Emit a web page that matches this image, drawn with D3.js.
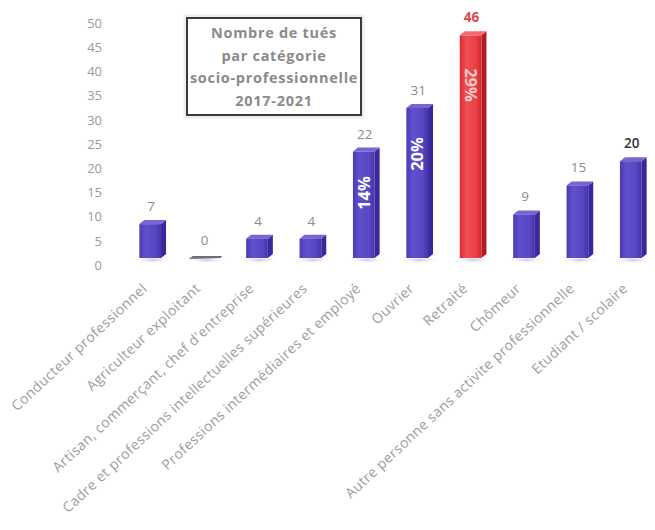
<!DOCTYPE html>
<html>
<head>
<meta charset="utf-8">
<script src="https://cdn.jsdelivr.net/npm/d3@7"></script>
<style>
  html, body { margin: 0; padding: 0; background: #fff; }
  svg { display: block; }
  text { font-family: "Open Sans", "DejaVu Sans", sans-serif; }
</style>
</head>
<body>
<svg id="chart" width="655" height="530"></svg>
<script>
// Categories (French socio-professional groups)
const categories = [
  "Conducteur professionnel",
  "Agriculteur exploitant",
  "Artisan, commerçant, chef d'entreprise",
  "Cadre et professions intellectuelles supérieures",
  "Professions intermédiaires et employé",
  "Ouvrier",
  "Retraité",
  "Chômeur",
  "Autre personne sans activite professionnelle",
  "Etudiant / scolaire"
];
// Number of people killed, 2017-2021
const values = [7, 0, 4, 4, 22, 31, 46, 9, 15, 20];
// Share labels written inside the three tallest bars
const shareLabels = ["", "", "", "", "14%", "20%", "29%", "", "", ""];
const yTicks = [0, 5, 10, 15, 20, 25, 30, 35, 40, 45, 50];
const titleLines = ["Nombre de tués", "par catégorie", "socio-professionnelle", "2017-2021"];

const svg = d3.select("#chart");

const x = d3.scaleBand().domain(categories).range([126, 660])
  .paddingInner(0.5).paddingOuter(0.25);
const y = d3.scaleLinear().domain([0, 50]).range([258, 16]);

const defs = svg.append("defs");
function grad(id, stops) {
  const g = defs.append("linearGradient").attr("id", id)
    .attr("x1", "0%").attr("x2", "100%").attr("y1", "0%").attr("y2", "0%");
  stops.forEach(([o, c]) => g.append("stop").attr("offset", o).attr("stop-color", c));
}
grad("blueFront", [["0%", "#4a3ab6"], ["30%", "#6150cc"], ["75%", "#5846c2"], ["100%", "#4434a8"]]);
grad("redFront", [["0%", "#dc2c34"], ["30%", "#f05055"], ["75%", "#ea4046"], ["100%", "#d0262d"]]);
const floorGrad = defs.append("radialGradient").attr("id", "floor");
floorGrad.append("stop").attr("offset", "0%").attr("stop-color", "#c9c4de");
floorGrad.append("stop").attr("offset", "100%").attr("stop-color", "#ffffff").attr("stop-opacity", 0);

// Y axis: labels only, no line
const yAxis = d3.axisLeft(y).tickValues(yTicks).tickSize(0).tickPadding(0);
const gy = svg.append("g").attr("transform", "translate(102,0)").call(yAxis);
gy.select(".domain").remove();
gy.selectAll("text")
  .attr("dy", "0.4em").attr("y", 6)
  .attr("fill", "#9a9a9a").attr("font-size", 13)
  .attr("font-family", "'Open Sans', sans-serif");

// X axis: rotated category labels
const xAxis = d3.axisBottom(x).tickSize(0).tickPadding(0);
const gx = svg.append("g").attr("transform", "translate(0,284)").call(xAxis);
gx.select(".domain").remove();
gx.selectAll("text")
  .attr("text-anchor", "end")
  .attr("transform", "translate(-8,2) rotate(-43)")
  .attr("dy", "0.35em").attr("y", 0)
  .attr("fill", "#9c9c9c").attr("font-size", 14)
  .attr("letter-spacing", 0.4)
  .attr("font-family", "'Open Sans', sans-serif");

const depth = 5, rise = 4;
const data = categories.map((c, i) => ({ c, v: values[i], pct: shareLabels[i], red: i === 6 }));

// Floor shadows under every bar
svg.append("g").selectAll("ellipse").data(data).join("ellipse")
  .attr("cx", d => x(d.c) + x.bandwidth() / 2)
  .attr("cy", y(0) + 2)
  .attr("rx", x.bandwidth() * 0.75).attr("ry", 3.5)
  .attr("fill", "url(#floor)");

const bars = svg.append("g").selectAll("g").data(data.filter(d => d.v > 0)).join("g");
const fw = x.bandwidth() - depth;
// right side face
bars.append("path")
  .attr("d", d => {
    const x0 = x(d.c) + fw, t = y(d.v), b = y(0);
    return `M${x0},${t} L${x0 + depth},${t - rise} L${x0 + depth},${b - rise} L${x0},${b} Z`;
  })
  .attr("fill", d => d.red ? "#b01c24" : "#37299a");
// top face
bars.append("path")
  .attr("d", d => {
    const x0 = x(d.c), t = y(d.v);
    return `M${x0},${t} L${x0 + depth},${t - rise} L${x0 + fw + depth},${t - rise} L${x0 + fw},${t} Z`;
  })
  .attr("fill", d => d.red ? "#f26c6e" : "#7566d6");
// front face
bars.append("rect")
  .attr("x", d => x(d.c)).attr("y", d => y(d.v))
  .attr("width", fw).attr("height", d => y(0) - y(d.v))
  .attr("fill", d => d.red ? "url(#redFront)" : "url(#blueFront)");

// zero-value bar drawn as a flat grey sliver
data.filter(d => d.v === 0).forEach(d => {
  const x0 = x(d.c);
  svg.append("path")
    .attr("d", `M${x0 - 4},${y(0) + 1} L${x0 + fw + 6},${y(0)} L${x0 + fw + 8},${y(0) - 2} L${x0},${y(0) - 2} Z`)
    .attr("fill", "#6e6e78");
});

// value labels above bars
svg.append("g").selectAll("text").data(data).join("text")
  .attr("x", d => x(d.c) + fw / 2 + 1)
  .attr("y", d => y(d.v) - 13)
  .attr("text-anchor", "middle")
  .attr("font-size", 13.5)
  .attr("font-weight", d => d.red ? "bold" : (d.v === 20 ? "600" : "normal"))
  .attr("fill", d => d.red ? "#e0474c" : (d.v === 20 ? "#333" : "#8c8c8c"))
  .text(d => d.v);

// share labels inside bars
const pctPos = { "14%": 193, "20%": 154, "29%": 85 };
svg.append("g").selectAll("text").data(data.filter(d => d.pct)).join("text")
  .attr("transform", d => {
    const cx = x(d.c) + fw / 2, cy = pctPos[d.pct];
    return `translate(${cx},${cy}) rotate(${d.red ? 90 : -90})`;
  })
  .attr("text-anchor", "middle").attr("dy", "0.35em")
  .attr("font-size", 16.5).attr("font-weight", "bold")
  .attr("fill", d => d.red ? "#f7c9c9" : "#ffffff")
  .text(d => d.pct);

// title box
const box = svg.append("g");
box.append("rect").attr("x", 185).attr("y", 16).attr("width", 178).attr("height", 101)
  .attr("fill", "none").attr("stroke", "#eeeeee").attr("stroke-width", 3);
box.append("rect").attr("x", 187).attr("y", 18).attr("width", 174).attr("height", 97)
  .attr("fill", "#fff").attr("stroke", "#3a3a3a").attr("stroke-width", 2);
box.selectAll("text.t").data(titleLines).join("text")
  .attr("class", "t")
  .attr("x", 274).attr("y", (d, i) => 38 + i * 22.5)
  .attr("text-anchor", "middle")
  .attr("font-size", 14.5).attr("font-weight", "bold")
  .attr("letter-spacing", 0.7)
  .attr("fill", "#8a8a8a")
  .text(d => d);
</script>
</body>
</html>
